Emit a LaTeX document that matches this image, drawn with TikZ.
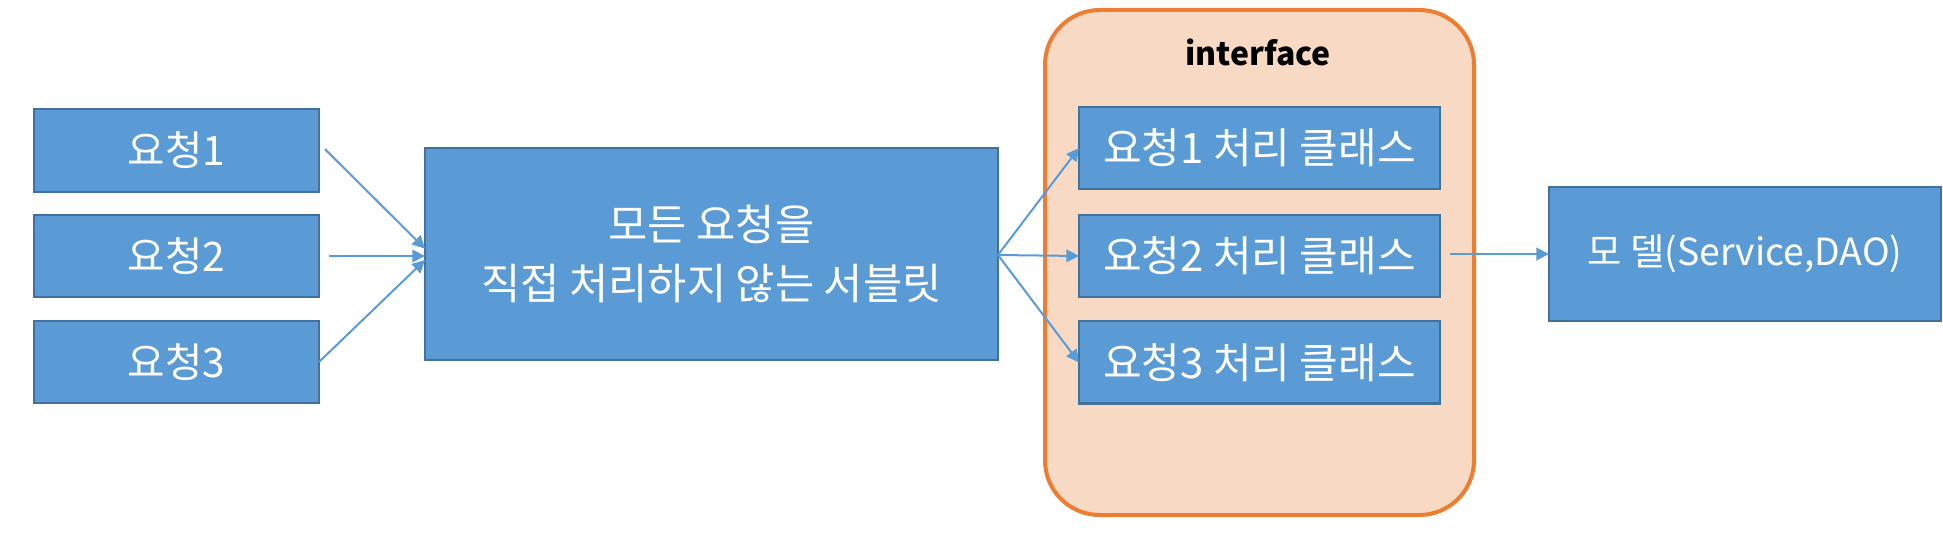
\documentclass[tikz,border=0pt]{standalone}
\usepackage{fontspec}
\setmainfont{Noto Sans CJK KR}
\usetikzlibrary{arrows.meta}
\definecolor{bfill}{HTML}{5B9BD5}
\definecolor{bline}{HTML}{41719C}
\definecolor{oline}{HTML}{ED7D31}
\definecolor{ofill}{HTML}{F8DAC4}
\tikzset{
  box/.style={draw=bline, fill=bfill, line width=1.5pt, text=white, font=\fontsize{30.5}{36}\selectfont, inner sep=0pt, outer sep=0pt, align=center},
  conn/.style={draw=bfill, line width=1.5pt, -{Triangle[length=9.5pt,width=9.5pt]}},
}
\begin{document}
\begin{tikzpicture}[x=0.75pt,y=-0.75pt]
\useasboundingbox (0,0) rectangle (1943,545);
% interface container
\node[draw=oline, fill=ofill, line width=3pt, rounded corners=41pt, minimum width=429*0.75pt, minimum height=505*0.75pt, inner sep=0pt] (iface) at (1259.5,262.5) {};
\node[font=\bfseries\fontsize{24}{28}\selectfont] (ilabel) at (1258,52) {interface};
% requests
\node[box, minimum width=285*0.75pt, minimum height=83*0.75pt] (r1) at (176.5,150.5) {요청1};
\node[box, minimum width=285*0.75pt, minimum height=82*0.75pt] (r2) at (176.5,256) {요청2};
\node[box, minimum width=285*0.75pt, minimum height=82*0.75pt] (r3) at (176.5,362) {요청3};
% servlet
\node[box, font=\fontsize{32}{44.5}\selectfont, minimum width=573*0.75pt, minimum height=212*0.75pt] (srv) at (711.5,254) {모든 요청을\\직접 처리하지 않는 서블릿};
% handler classes
\node[box, font=\fontsize{31.5}{36}\selectfont, minimum width=361*0.75pt, minimum height=82*0.75pt] (c1) at (1259.5,148) {요청1 처리 클래스};
\node[box, font=\fontsize{31.5}{36}\selectfont, minimum width=361*0.75pt, minimum height=82*0.75pt] (c2) at (1259.5,256) {요청2 처리 클래스};
\node[box, font=\fontsize{31.5}{36}\selectfont, minimum width=361*0.75pt, minimum height=82*0.75pt] (c3) at (1259.5,362.5) {요청3 처리 클래스};
% model
\node[box, font=\fontsize{28}{34}\selectfont, minimum width=392*0.75pt, minimum height=134*0.75pt] (model) at (1745,254) {모 델(Service,DAO)};
% connectors
\draw[conn] ([xshift=4.5pt,yshift=1pt]r1.east) -- ([yshift=4pt]srv.west);
\draw[conn] ([xshift=7.5pt]r2.east) -- ([yshift=-1.5pt]srv.west);
\draw[conn] (r3.east) -- ([yshift=-4.5pt]srv.west);
\draw[conn] ([yshift=-0.75pt]srv.east) -- (c1.west);
\draw[conn] ([yshift=-0.75pt]srv.east) -- (c2.west);
\draw[conn] ([yshift=-0.75pt]srv.east) -- (c3.west);
\draw[conn] ([xshift=7.5pt,yshift=1.5pt]c2.east) -- (model.west);
\end{tikzpicture}
\end{document}
